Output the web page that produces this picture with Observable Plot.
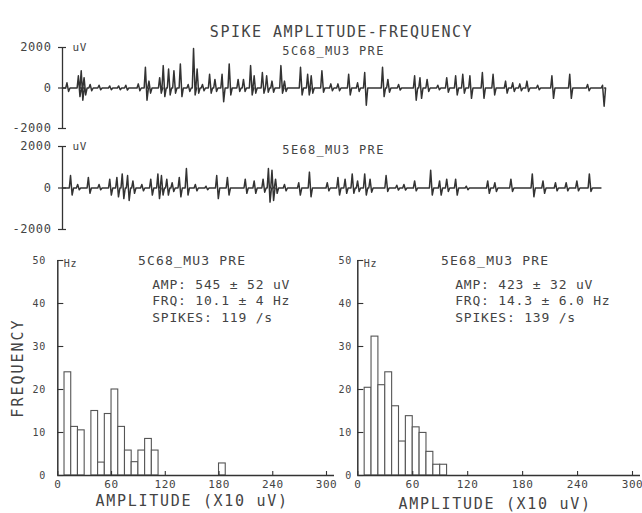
<!DOCTYPE html>
<html>
<head>
<meta charset="utf-8">
<script src="https://cdn.jsdelivr.net/npm/d3@7"></script>
<script src="https://cdn.jsdelivr.net/npm/@observablehq/plot@0.6"></script>
<style>
  body { margin: 0; background: #fff; }
  #chart { position: relative; width: 642px; height: 513px; background: #fff; overflow: hidden; }
  #chart svg { position: absolute; font-family: "DejaVu Sans Mono", monospace; }
</style>
</head>
<body>
<div id="chart"></div>
<script>
// ---------- data ----------
const chartTitle = "SPIKE AMPLITUDE-FREQUENCY";
const unitNames = ["5C68_MU3 PRE", "5E68_MU3 PRE"];
const traceYTicks = [-2000, 0, 2000];
const traceEnd = [1520, 1510];

// trace 1 (5C68_MU3 PRE): spike times, upward peak (uV), downward trough (uV)
const trace1Time = [15, 47, 55, 63, 80, 105, 135, 160, 180, 215, 235, 245, 275, 285, 300, 315, 333, 355, 370, 380, 395, 415, 430, 450, 470, 495, 510, 530, 540, 563, 575, 590, 615, 625, 670, 690, 700, 730, 755, 775, 805, 830, 850, 900, 915, 945, 990, 1005, 1025, 1055, 1080, 1105, 1125, 1145, 1180, 1210, 1245, 1265, 1285, 1305, 1335, 1375, 1425, 1475, 1517];
const trace1Up = [255, 600, 850, 510, 170, 135, 100, 100, 135, 205, 1020, 340, 510, 1105, 935, 850, 1190, 170, 1950, 935, 170, 680, 425, 680, 1190, 425, 425, 1105, 600, 765, 600, 340, 1105, 340, 1020, 680, 600, 850, 205, 205, 680, 255, 765, 1020, 425, 170, 600, 510, 425, 135, 510, 600, 680, 600, 765, 680, 340, 255, 205, 340, 135, 600, 680, 170, 135];
const trace1Down = [170, 425, 600, 340, 135, 85, 85, 85, 100, 135, 600, 255, 255, 425, 340, 255, 425, 170, 340, 255, 135, 255, 170, 680, 340, 170, 170, 340, 255, 255, 205, 205, 255, 170, 340, 340, 255, 205, 135, 135, 340, 170, 850, 425, 205, 100, 600, 510, 170, 85, 205, 340, 255, 510, 510, 340, 255, 170, 135, 170, 85, 510, 510, 135, 900];

// trace 2 (5E68_MU3 PRE)
const trace2Time = [25, 45, 75, 105, 135, 155, 170, 185, 200, 225, 250, 270, 280, 295, 310, 330, 350, 375, 405, 435, 465, 515, 540, 565, 580, 590, 600, 625, 665, 695, 745, 775, 795, 815, 830, 850, 865, 910, 940, 960, 990, 1035, 1060, 1080, 1105, 1135, 1195, 1215, 1260, 1320, 1350, 1385, 1415, 1445, 1480];
const trace2Up = [600, 170, 510, 170, 425, 510, 680, 600, 340, 170, 425, 680, 600, 425, 255, 510, 935, 170, 85, 600, 510, 425, 340, 425, 935, 850, 425, 170, 255, 765, 255, 510, 425, 680, 340, 680, 425, 600, 135, 170, 340, 850, 340, 425, 425, 85, 340, 255, 425, 680, 340, 255, 255, 340, 680];
const trace2Down = [340, 85, 255, 85, 340, 425, 510, 600, 255, 135, 340, 510, 340, 340, 170, 425, 340, 135, 85, 510, 340, 255, 255, 205, 680, 600, 255, 135, 340, 425, 135, 340, 255, 255, 170, 340, 205, 170, 100, 100, 135, 340, 340, 170, 340, 85, 255, 170, 170, 425, 255, 135, 135, 135, 170];

// histograms: amplitude bins (x10 uV) and frequency (Hz)
const binStart = [0, 7.5, 15, 22.5, 30, 37.5, 45, 52.5, 60, 67.5, 75, 82.5, 90, 97.5, 105, 112.5, 120, 127.5, 135, 142.5, 150, 157.5, 165, 172.5, 180, 187.5, 195, 202.5, 210, 217.5, 225, 232.5, 240, 247.5, 255, 262.5, 270, 277.5, 285, 292.5];
const binWidth = 7.5;
const leftCounts = [0, 24, 11.3, 10.5, 0, 15, 3, 14.3, 20, 11.3, 5.8, 3.1, 5.8, 8.5, 5.8, 0, 0, 0, 0, 0, 0, 0, 0, 0, 2.8, 0, 0, 0, 0, 0, 0, 0, 0, 0, 0, 0, 0, 0, 0, 0];
const rightCounts = [0, 20.4, 32.3, 21, 24, 16.1, 7.9, 13.8, 11.2, 9.9, 5.5, 2.5, 2.5, 0, 0, 0, 0, 0, 0, 0, 0, 0, 0, 0, 0, 0, 0, 0, 0, 0, 0, 0, 0, 0, 0, 0, 0, 0, 0, 0];
const histXTicks = [0, 60, 120, 180, 240, 300];
const histYTicks = [0, 10, 20, 30, 40, 50];
const leftStats = ["AMP: 545 ± 52 uV", "FRQ: 10.1 ± 4 Hz", "SPIKES: 119 /s"];
const rightStats = ["AMP: 423 ± 32 uV", "FRQ: 14.3 ± 6.0 Hz", "SPIKES: 139 /s"];
const xLabel = "AMPLITUDE (X10 uV)";
const yLabel = "FREQUENCY";
const traceUnit = "uV";
const histUnit = "Hz";

// ---------- drawing ----------
const INK = "#333";
const TEXT = "#444";
const chart = document.getElementById("chart");

// letter spacing to mimic the wide pen-plotter lettering
const spacing = new Map([
  [chartTitle, "1.5px"], [unitNames[0], "1.3px"], [unitNames[1], "1.3px"],
  [xLabel, "1.7px"], [yLabel, "2px"]
]);
function applySpacing(svg, nameSpacing) {
  d3.select(svg).selectAll("text").each(function () {
    const t = this.textContent;
    if (spacing.has(t)) {
      const isName = unitNames.includes(t);
      this.style.letterSpacing = isName ? nameSpacing : spacing.get(t);
    } else if (t.startsWith("AMP:")) {
      this.style.letterSpacing = "0.8px";
    } else {
      this.style.letterSpacing = "0.6px";
    }
  });
}

function buildTrace(T, U, D, end) {
  const pts = [{t: 0, v: 0}];
  T.forEach((t, i) => {
    pts.push({t: t - 6, v: 0}, {t: t - 2.5, v: U[i]}, {t: t + 2, v: -D[i]}, {t: t + 6, v: 0});
  });
  pts.push({t: end, v: 0});
  return pts;
}

function tracePlot({pts, name, top, height, marginTop, marginBottom, withTitle}) {
  const marks = [
    Plot.ruleX([0], {y1: d3.min(traceYTicks), y2: d3.max(traceYTicks), stroke: INK, strokeWidth: 1.3}),
    Plot.ruleY(traceYTicks, {x1: 0, x2: 0, insetLeft: -4, insetRight: -4, stroke: INK, strokeWidth: 1.2}),
    Plot.axisY({ticks: traceYTicks, tickSize: 0, tickPadding: 11, label: null, fontSize: 12, tickFormat: d => `${d}`}),
    Plot.line(pts, {x: "t", y: "v", stroke: INK, strokeWidth: 1.5, curve: "linear"}),
    Plot.text([name], {text: d => d, frameAnchor: "top", dy: -1, fontSize: 12}),
    Plot.text([traceUnit], {text: d => d, frameAnchor: "top-left", textAnchor: "start", dx: 10, dy: -4, fontSize: 11})
  ];
  if (withTitle) marks.push(Plot.text([chartTitle], {text: d => d, frameAnchor: "top", dx: 8, dy: -21, fontSize: 15}));
  const svg = Plot.plot({
    width: 642, height, marginLeft: 62, marginRight: 38, marginTop, marginBottom,
    x: {domain: [0, d3.max(traceEnd)], axis: null},
    y: {domain: [d3.min(traceYTicks), d3.max(traceYTicks)]},
    style: {left: "0px", top: top + "px", background: "transparent", overflow: "visible", color: TEXT},
    marks
  });
  applySpacing(svg, "1.3px");
  chart.appendChild(svg);
}

tracePlot({pts: buildTrace(trace1Time, trace1Up, trace1Down, traceEnd[0]), name: unitNames[0], top: 0, height: 140, marginTop: 47, marginBottom: 12, withTitle: true});
tracePlot({pts: buildTrace(trace2Time, trace2Up, trace2Down, traceEnd[1]), name: unitNames[1], top: 140, height: 100, marginTop: 6, marginBottom: 11, withTitle: false});

function histPlot({counts, name, stats, left, width, marginLeft, marginRight, yPad, showYLabel, xLabelDy}) {
  const bins = binStart.map((s, i) => ({x1: s, x2: s + binWidth, y: counts[i]})).filter(d => d.y > 0);
  const marks = [
    Plot.rect(bins, {x1: "x1", x2: "x2", y1: 0, y2: "y", fill: "white", stroke: "#555", strokeWidth: 1.1}),
    Plot.ruleY([0], {insetRight: -8, stroke: INK, strokeWidth: 1.3}),
    Plot.ruleX([0], {y1: d3.min(histYTicks), y2: d3.max(histYTicks), stroke: INK, strokeWidth: 1.5}),
    Plot.ruleY(histYTicks, {x1: 0, x2: 0, insetRight: -6, stroke: INK, strokeWidth: 1.1}),
    Plot.ruleX(histXTicks, {y1: 0, y2: 0, insetTop: -4, stroke: INK, strokeWidth: 1.1}),
    Plot.axisY({ticks: histYTicks, tickSize: 0, tickPadding: yPad, label: null, fontSize: 10, tickFormat: d => `${d}`}),
    Plot.axisX({ticks: histXTicks, tickSize: 0, tickPadding: 5, label: null, fontSize: 11, tickFormat: d => `${d}`}),
    Plot.text([histUnit], {text: d => d, frameAnchor: "top-left", textAnchor: "start", dx: 6, dy: -1, fontSize: 10}),
    Plot.text([name], {text: d => d, frameAnchor: "top", dy: -5, fontSize: 13}),
    Plot.text([stats.join("\n")], {text: d => d, frameAnchor: "top", textAnchor: "start", lineAnchor: "top", dx: -40, dy: 16, lineHeight: 1.3, fontSize: 13}),
    Plot.text([xLabel], {text: d => d, frameAnchor: "bottom", lineAnchor: "middle", dy: xLabelDy, fontSize: 15})
  ];
  if (showYLabel) marks.push(Plot.text([yLabel], {text: d => d, frameAnchor: "left", textAnchor: "middle", rotate: -90, dx: -40, fontSize: 15}));
  const svg = Plot.plot({
    width, height: 273, marginLeft, marginRight, marginTop: 20, marginBottom: 38,
    x: {domain: [d3.min(histXTicks), d3.max(histXTicks)]},
    y: {domain: [d3.min(histYTicks), d3.max(histYTicks)]},
    style: {left: left + "px", top: "240px", background: "transparent", overflow: "visible", color: TEXT},
    marks
  });
  applySpacing(svg, "1.2px");
  chart.appendChild(svg);
}

histPlot({counts: leftCounts, name: unitNames[0], stats: leftStats, left: 0, width: 330, marginLeft: 57.3, marginRight: 4, yPad: 12, showYLabel: true, xLabelDy: 26});
histPlot({counts: rightCounts, name: unitNames[1], stats: rightStats, left: 320, width: 322, marginLeft: 37.3, marginRight: 10, yPad: 6, showYLabel: false, xLabelDy: 29});
</script>
</body>
</html>
